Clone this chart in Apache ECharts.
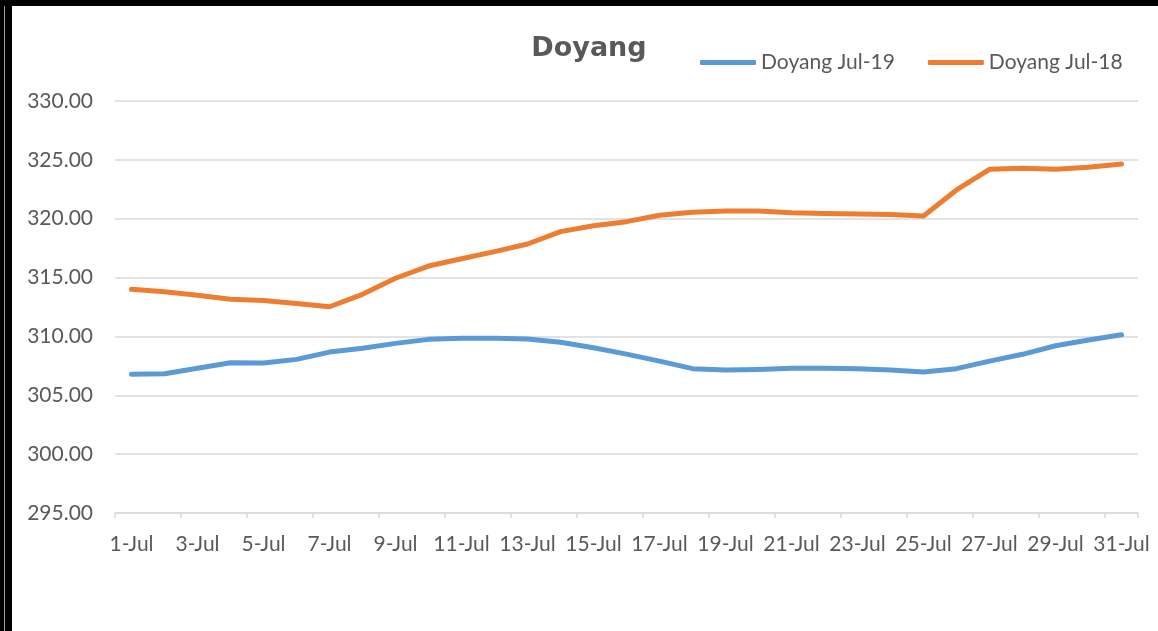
<!DOCTYPE html>
<html>
<head>
<meta charset="utf-8">
<script src="https://cdn.jsdelivr.net/npm/echarts@6/dist/echarts.min.js"></script>
<style>
html,body{margin:0;padding:0;background:#fff;}
#chart{width:1158px;height:631px;}
</style>
</head>
<body>
<div id="chart"></div>
<script>
var categories = [];
for (var d = 1; d <= 31; d++) categories.push(d + '-Jul');

var jul19 = [306.78, 306.83, 307.29, 307.77, 307.74, 308.05, 308.67, 308.99, 309.41, 309.75,
             309.84, 309.84, 309.78, 309.50, 309.04, 308.50, 307.90, 307.26, 307.15, 307.20,
             307.30, 307.29, 307.26, 307.15, 306.98, 307.26, 307.90, 308.48, 309.21, 309.69, 310.14];

var jul18 = [314.00, 313.79, 313.50, 313.15, 313.05, 312.80, 312.52, 313.58, 314.94, 315.98,
             316.60, 317.20, 317.85, 318.90, 319.40, 319.75, 320.30, 320.54, 320.65, 320.65,
             320.50, 320.45, 320.40, 320.35, 320.23, 322.44, 324.20, 324.28, 324.20, 324.37, 324.65];

var seriesNames = ['Doyang Jul-19', 'Doyang Jul-18'];
var titleText = 'Doyang';

var textColor = '#595959';
var font = 'Lato';

var chart = echarts.init(document.getElementById('chart'), null, {renderer: 'canvas'});
chart.setOption({
  animation: false,
  backgroundColor: '#ffffff',
  title: {
    text: titleText,
    left: 589,
    top: 35,
    padding: 0,
    textAlign: 'center',
    textStyle: {fontFamily: 'DejaVu Sans', fontWeight: 'bold', fontSize: 27, color: textColor}
  },
  legend: {
    left: 700,
    top: 52,
    padding: 0,
    itemWidth: 56,
    itemHeight: 5,
    itemGap: 33,
    icon: 'roundRect',
    textStyle: {fontFamily: font, fontSize: 21, color: textColor},
    data: seriesNames
  },
  grid: {left: 115, right: 20, top: 101, bottom: 118, containLabel: false},
  xAxis: {
    type: 'category',
    data: categories,
    boundaryGap: true,
    axisLine: {lineStyle: {color: '#d9d9d9', width: 1.5}},
    axisTick: {show: true, interval: 1, length: 5, lineStyle: {color: '#d9d9d9', width: 1.5}},
    axisLabel: {interval: 1, fontFamily: font, fontSize: 21, color: textColor, margin: 21}
  },
  yAxis: {
    type: 'value',
    min: 295,
    max: 330,
    interval: 5,
    axisLine: {show: false},
    axisTick: {show: false},
    splitLine: {lineStyle: {color: '#d9d9d9', width: 1.5}},
    axisLabel: {
      fontFamily: font, fontSize: 21, color: textColor, margin: 22,
      formatter: function (v) { return v.toFixed(2); }
    }
  },
  series: [
    {name: seriesNames[0], type: 'line', data: jul19, symbol: 'none', smooth: false,
     itemStyle: {color: '#5B9BD5'},
     lineStyle: {color: '#5B9BD5', width: 5, cap: 'round', join: 'round'}},
    {name: seriesNames[1], type: 'line', data: jul18, symbol: 'none', smooth: false,
     itemStyle: {color: '#ED7D31'},
     lineStyle: {color: '#ED7D31', width: 5, cap: 'round', join: 'round'}}
  ],
  graphic: [
    {type: 'rect', left: 0, top: 0, shape: {width: 12, height: 631}, style: {fill: '#000'}, silent: true},
    {type: 'rect', left: 0, top: 0, shape: {width: 1158, height: 6}, style: {fill: '#000'}, silent: true},
    {type: 'rect', left: 4, top: 6, shape: {width: 1, height: 625}, style: {fill: '#9a9a9a'}, silent: true}
  ]
});
</script>
</body>
</html>
